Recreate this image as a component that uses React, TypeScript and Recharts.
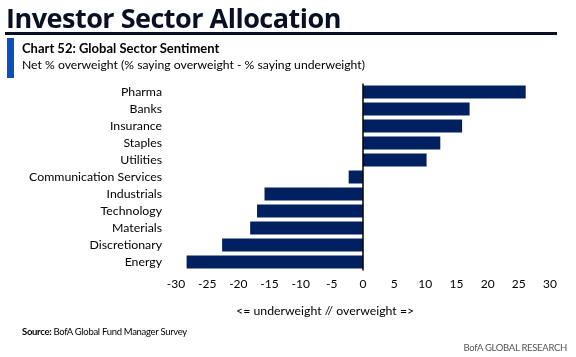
import { BarChart, Bar, XAxis, YAxis, ReferenceLine } from 'recharts';

const sectors = [
  'Pharma',
  'Banks',
  'Insurance',
  'Staples',
  'Utilities',
  'Communication Services',
  'Industrials',
  'Technology',
  'Materials',
  'Discretionary',
  'Energy',
];
const netOverweight = [26.1, 17.1, 15.9, 12.4, 10.2, -2.3, -15.8, -17.0, -18.1, -22.6, -28.3];
const xTicks = [-30, -25, -20, -15, -10, -5, 0, 5, 10, 15, 20, 25, 30];

const data = sectors.map((sector, i) => ({ sector, value: netOverweight[i] }));

const NAVY = '#002060';
const FONT = 'Lato, "Open Sans", sans-serif';

export default function App() {
  return (
    <div
      style={{
        position: 'fixed',
        top: 0,
        left: 0,
        width: 576,
        height: 357,
        background: '#fff',
        fontFamily: FONT,
        color: '#000',
      }}
    >
      <div
        style={{
          position: 'absolute',
          left: 6,
          top: -1,
          fontFamily: '"Open Sans", sans-serif',
          fontWeight: 700,
          fontSize: 27,
          color: '#0b0f24',
          letterSpacing: -0.5,
          whiteSpace: 'nowrap',
        }}
      >
        Investor Sector Allocation
      </div>
      <div style={{ position: 'absolute', left: 5, top: 32, width: 552, height: 2.5, background: '#0b0f24' }} />
      <div style={{ position: 'absolute', left: 7, top: 38, width: 7, height: 40, background: '#0a50c0' }} />
      <div
        style={{
          position: 'absolute',
          left: 22,
          top: 40,
          fontSize: 13,
          fontWeight: 700,
          lineHeight: '16px',
        }}
      >
        Chart 52: Global Sector Sentiment
      </div>
      <div style={{ position: 'absolute', left: 22, top: 57, fontSize: 12.2, lineHeight: '16px' }}>
        Net % overweight (% saying overweight - % saying underweight)
      </div>

      <div style={{ position: 'absolute', left: 0, top: 0 }}>
        <BarChart
          width={576}
          height={357}
          data={data}
          layout="vertical"
          margin={{ top: 83.5, right: 26, bottom: 56.5, left: 10 }}
          barSize={13}
        >
          <XAxis
            type="number"
            domain={[-30, 30]}
            ticks={xTicks}
            axisLine={false}
            tickLine={false}
            tickSize={0}
            tickMargin={9}
            height={30}
            tick={{ fontSize: 12, fill: '#000', fontFamily: FONT }}
          />
          <YAxis
            type="category"
            dataKey="sector"
            width={166}
            axisLine={false}
            tickLine={false}
            tickSize={0}
            tickMargin={14}
            interval={0}
            tick={{ fontSize: 12.3, fill: '#000', fontFamily: FONT }}
          />
          <Bar dataKey="value" fill={NAVY} isAnimationActive={false} />
          <ReferenceLine x={0} stroke="#000" strokeWidth={1.5} />
        </BarChart>
      </div>

      <div
        style={{
          position: 'absolute',
          left: 236,
          top: 303,
          fontSize: 12.3,
          lineHeight: '16px',
        }}
      >
        {'<= underweight // overweight =>'}
      </div>
      <div style={{ position: 'absolute', left: 22, top: 325, fontSize: 9.5, lineHeight: '14px', letterSpacing: -0.3 }}>
        <b>Source:</b> BofA Global Fund Manager Survey
      </div>
      <div
        style={{
          position: 'absolute',
          right: 9,
          top: 341,
          fontSize: 9.5,
          lineHeight: '14px',
          color: '#555',
          letterSpacing: -0.3,
        }}
      >
        BofA GLOBAL RESEARCH
      </div>
    </div>
  );
}
